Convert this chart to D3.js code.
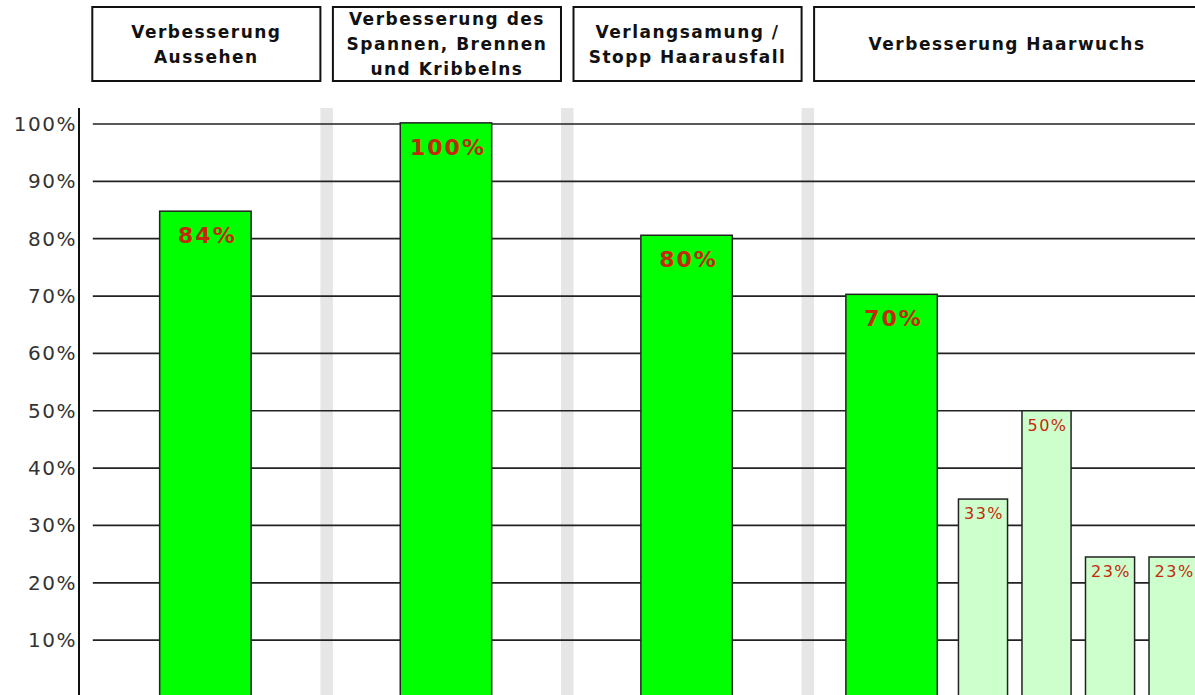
<!DOCTYPE html>
<html>
<head>
<meta charset="utf-8">
<script src="https://cdn.jsdelivr.net/npm/d3@7"></script>
<style>
  html, body { margin: 0; padding: 0; background: #fff; }
  svg { display: block; }
  text { font-family: Verdana, "DejaVu Sans", sans-serif; }
</style>
</head>
<body>
<svg id="chart" width="1195" height="695"></svg>
<script>
// ---- data ----
const categories = [
  "Verbesserung Aussehen",
  "Verbesserung des Spannen, Brennen und Kribbelns",
  "Verlangsamung / Stopp Haarausfall",
  "Verbesserung Haarwuchs"
];
const headerLines = [
  ["Verbesserung", "Aussehen"],
  ["Verbesserung des", "Spannen, Brennen", "und Kribbelns"],
  ["Verlangsamung /", "Stopp Haarausfall"],
  ["Verbesserung Haarwuchs"]
];
const barGroup  = [0, 1, 2, 3, 3, 3, 3, 3];
const barKind   = ["main", "main", "main", "main", "sub", "sub", "sub", "sub"];
const barValues = [84.8, 100.2, 80.6, 70.3, 34.6, 50, 24.5, 24.5];
const barLabels = ["84%", "100%", "80%", "70%", "33%", "50%", "23%", "23%"];
const yTicks      = [10, 20, 30, 40, 50, 60, 70, 80, 90, 100];
const yTickLabels = ["10%", "20%", "30%", "40%", "50%", "60%", "70%", "80%", "90%", "100%"];

// ---- scales ----
const svg = d3.select("#chart");
const x = d3.scaleLinear().domain([0, 1]).range([92.3, 332.9]); // one unit per group
const y = d3.scaleLinear().domain([0, 100]).range([697.5, 124]);
const H = 695;

// layout (in group units)
const boxW = i => (i < 3 ? 0.948 : 1.604);
function barLayout(i) {
  const g = barGroup[i];
  if (barKind[i] === "main") {
    const off = g < 3 ? 0.28 : 0.132;
    return { x0: x(g + off), w: x(g + off + 0.38) - x(g + off) };
  }
  const k = barGroup.slice(0, i).filter((gg, j) => gg === g && barKind[j] === "sub").length;
  const s = g + 0.6 + k * 0.264;
  return { x0: x(s), w: x(s + 0.204) - x(s) };
}

// separators
svg.append("g").selectAll("rect")
  .data(categories.slice(0, 3))
  .join("rect")
  .attr("x", (d, i) => x(i + 0.948))
  .attr("y", 108)
  .attr("width", (d, i) => x(i + 1) - x(i + 0.948))
  .attr("height", H - 108)
  .attr("fill", "#e6e6e6");

// gridlines
svg.append("g").selectAll("line")
  .data(yTicks)
  .join("line")
  .attr("x1", x(0) + 0.5).attr("x2", 1195)
  .attr("y1", d => y(d)).attr("y2", d => y(d))
  .attr("stroke", "#222").attr("stroke-width", 1.7);

// y axis line
svg.append("line")
  .attr("x1", 79).attr("x2", 79).attr("y1", 108).attr("y2", H)
  .attr("stroke", "#111").attr("stroke-width", 2);

// y axis labels
const yAxis = d3.axisLeft(y).tickValues(yTicks)
  .tickFormat((d, i) => yTickLabels[i]).tickSize(0).tickPadding(2);
const ya = svg.append("g").attr("transform", "translate(79,0)").call(yAxis);
ya.select(".domain").remove();
ya.selectAll("text")
  .attr("font-family", 'Verdana, "DejaVu Sans", sans-serif')
  .attr("font-size", 20).attr("fill", "#333").attr("letter-spacing", "1.5px");

// bars
const bars = barValues.map((v, i) => ({ v, i, label: barLabels[i], kind: barKind[i], ...barLayout(i) }));
svg.append("g").selectAll("rect")
  .data(bars)
  .join("rect")
  .attr("x", d => d.x0)
  .attr("y", d => y(d.v))
  .attr("width", d => d.w)
  .attr("height", d => y(0) - y(d.v))
  .attr("fill", d => d.kind === "main" ? "#00ff00" : "#ccffcc")
  .attr("stroke", "#222").attr("stroke-width", 1.5);

// bar labels
svg.append("g").selectAll("text")
  .data(bars)
  .join("text")
  .attr("x", d => d.x0 + d.w / 2 + (d.kind === "main" ? 2 : 1))
  .attr("y", d => y(d.v) + (d.kind === "main" ? 32 : 20))
  .attr("text-anchor", "middle")
  .attr("font-size", d => d.kind === "main" ? 22 : 16)
  .attr("font-weight", d => d.kind === "main" ? "bold" : "normal")
  .attr("letter-spacing", d => d.kind === "main" ? "2px" : "1.5px")
  .attr("fill", "#c42a0a")
  .text(d => d.label);

// header boxes
const hdr = svg.append("g").selectAll("g")
  .data(categories)
  .join("g");
hdr.append("rect")
  .attr("x", (d, i) => x(i))
  .attr("y", 7)
  .attr("width", (d, i) => x(i + boxW(i)) - x(i))
  .attr("height", 74)
  .attr("fill", "#fff")
  .attr("stroke", "#111").attr("stroke-width", 2);
hdr.each(function (d, i) {
  const lines = headerLines[i];
  const cx = (x(i) + x(i + boxW(i))) / 2;
  const lh = 25;
  const base = 44 + 6 - (lines.length - 1) * lh / 2;
  d3.select(this).append("text")
    .attr("text-anchor", "middle")
    .attr("font-size", 17).attr("font-weight", "bold")
    .attr("letter-spacing", "1.5px").attr("fill", "#111")
    .selectAll("tspan").data(lines).join("tspan")
    .attr("x", cx)
    .attr("y", (l, k) => base + k * lh)
    .text(l => l);
});
</script>
</body>
</html>
